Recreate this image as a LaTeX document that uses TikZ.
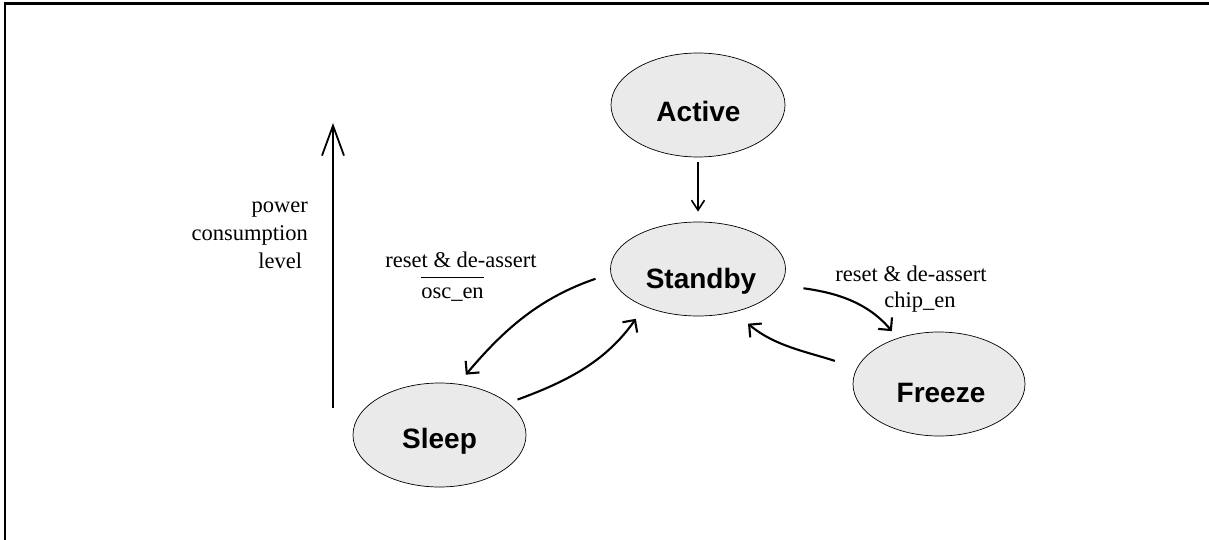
\documentclass[tikz,border=0pt]{standalone}
\usepackage{fontspec}
\setmainfont{Liberation Serif}
\newfontfamily\lsans{Liberation Sans}
\usetikzlibrary{shapes.geometric,arrows.meta}
\definecolor{stategray}{HTML}{EAEAEA}
\newcommand\ovlbar[1]{\leavevmode\vbox{\hrule height 0.9pt\kern 9pt\hbox{#1}}}
\begin{document}
\begin{tikzpicture}[x=1pt,y=-1pt,
  state/.style={ellipse, draw, line width=0.7pt, fill=stategray, inner sep=0pt},
  statelabel/.style={font=\lsans\bfseries\fontsize{28}{34}\selectfont, inner sep=0pt, anchor=base},
  lbl/.style={font=\fontsize{22.5}{28}\selectfont, inner sep=0pt},
  curvearr/.style={line width=2.1pt, -{Straight Barb[length=9pt,width=18pt]}},
  straightarr/.style={line width=1.6pt, -{Straight Barb[length=10pt,width=13pt]}},
  powerarr/.style={line width=1.8pt, -{Straight Barb[length=30pt,width=22pt]}},
]
\useasboundingbox (0,0) rectangle (1209,540);
\draw[line width=2.6pt] (5,541) -- (5,3.3) -- (1210,3.3);

% states
\node[state, minimum width=174pt, minimum height=104pt] (active)  at (698,105) {};
\node[state, minimum width=175pt, minimum height=94pt]  (standby) at (698,269) {};
\node[state, minimum width=173pt, minimum height=104pt] (sleep)   at (439.5,435) {};
\node[state, minimum width=172pt, minimum height=104pt] (freeze)  at (939,384) {};

\node[statelabel] (activeL)  at (698.5,122) {Active};
\node[statelabel] (standbyL) at (701,288) {Standby};
\node[statelabel] (sleepL)   at (439.5,448) {Sleep};
\node[statelabel] (freezeL)  at (941,402) {Freeze};

% transitions
\draw[straightarr, shorten <=5pt, shorten >=10pt] (active) -- (standby);
\draw[curvearr, shorten <=16pt, shorten >=12pt] (standby.183) to[out=199,in=50] (sleep.70);
\draw[curvearr, shorten <=10pt, shorten >=15pt] (sleep.25) to[out=20,in=235] (standby.215);
\draw[curvearr, shorten <=23pt, shorten >=9pt] (standby.-11) to[out=-8,in=130] (freeze.132);
\draw[curvearr, shorten <=23pt, shorten >=18pt] (freeze.169) to[out=162,in=-40] (standby.-50);

% power axis
\coordinate (pbot) at (333,408);
\coordinate (ptop) at (333,123);
\draw[powerarr] (pbot) -- (ptop);

% labels (base anchor = baseline of the last line)
\node[lbl, align=right, anchor=base east] (powerL) at (308,268) {power\\consumption\\level\hspace*{5.6pt}};
\node[lbl, align=center, anchor=base] (oscL) at (461,298) {reset \& de-assert\\[3pt]\ovlbar{osc\_en}\hspace*{17pt}};
\node[lbl, align=center, anchor=base] (chipL) at (911,307.3) {reset \& de-assert\\[-2.5pt]\hspace*{18pt}chip\_en};
\end{tikzpicture}
\end{document}
